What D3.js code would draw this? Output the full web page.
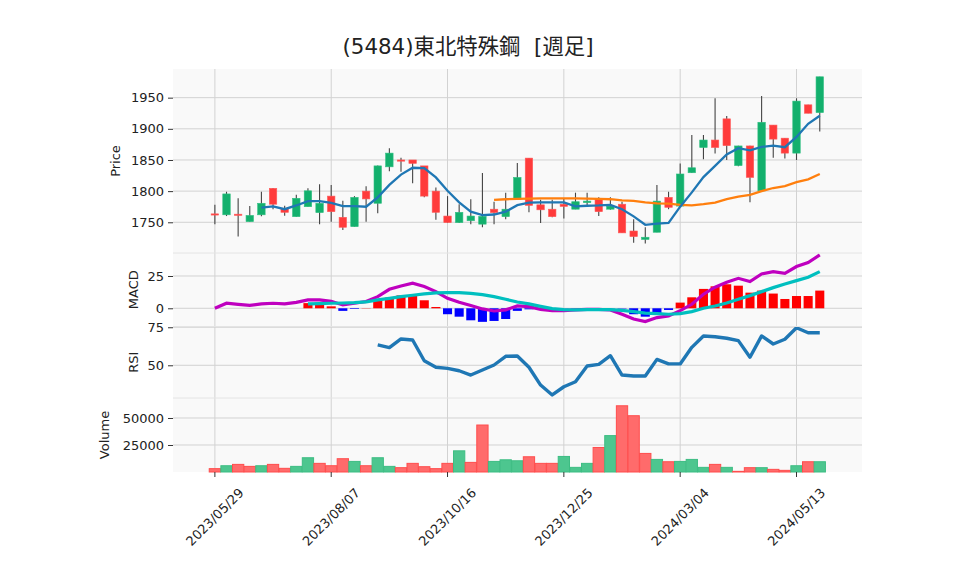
<!DOCTYPE html>
<html><head><meta charset="utf-8">
<script src="https://cdn.jsdelivr.net/npm/d3@7"></script>
<style>
body{margin:0;background:#fff}
text{font-family:"DejaVu Sans","Noto Sans CJK JP",sans-serif;fill:#222}
</style>
</head><body>
<svg id="c" width="958" height="575"></svg>
<script>
// ---------------- DATA ----------------
const title = "(5484)東北特殊鋼  [週足]";
const dates = ["2023/05/29","2023/06/05","2023/06/12","2023/06/19","2023/06/26","2023/07/03","2023/07/10","2023/07/17","2023/07/24","2023/07/31",
"2023/08/07","2023/08/14","2023/08/21","2023/08/28","2023/09/04","2023/09/11","2023/09/18","2023/09/25","2023/10/02","2023/10/09",
"2023/10/16","2023/10/23","2023/10/30","2023/11/06","2023/11/13","2023/11/20","2023/11/27","2023/12/04","2023/12/11","2023/12/18",
"2023/12/25","2024/01/01","2024/01/08","2024/01/15","2024/01/22","2024/01/29","2024/02/05","2024/02/12","2024/02/19","2024/02/26",
"2024/03/04","2024/03/11","2024/03/18","2024/03/25","2024/04/01","2024/04/08","2024/04/15","2024/04/22","2024/04/29","2024/05/06",
"2024/05/13","2024/05/20","2024/05/27"];
const tickLabels = ["2023/05/29","2023/08/07","2023/10/16","2023/12/25","2024/03/04","2024/05/13"];

const opens  = [1763.5,1762,1763,1751,1762,1804.5,1772.5,1759,1775,1765.5,
1792,1758,1743,1800,1780.5,1839,1850,1850,1840.5,1800,
1760,1749.5,1752.5,1747,1771,1759,1787,1853,1778,1771,
1779,1771,1781.5,1788.5,1771,1779,1736,1722.5,1734,1790,
1776,1829.5,1870,1882,1916,1841,1872.5,1800.5,1906,1885,
1861,1938.5,1926];
const highs  = [1778,1799,1788.5,1776,1799,1805,1776.5,1794,1804.5,1811,
1810,1784.5,1792,1808,1841,1869,1853.5,1850,1840.5,1806,
1792,1779,1787,1829,1783,1797.5,1845,1853,1786,1786,
1789,1797.5,1797.5,1790,1790,1783,1755,1742,1810,1799,
1844.5,1890,1890,1949,1920.5,1873,1873,1952.5,1906,1885,
1949,1938.5,1983.5];
const lows   = [1747,1760,1727,1751,1759.5,1771,1760.5,1759,1775,1747,
1751,1737.5,1743,1751,1764.5,1832,1831,1812.5,1790,1754,
1749,1749,1747,1742,1747,1755,1787,1766,1749,1758,
1756,1771,1777.5,1760,1770,1733,1717,1716,1734,1771,
1775,1829,1851,1860.5,1850,1840,1782,1800,1853.5,1852.5,
1850,1925,1895.5];
const closes = [1763,1795.5,1763,1761,1780.5,1779,1766,1788.5,1800.5,1780.5,
1767,1742,1790,1787.5,1840.5,1861,1850,1844.5,1792,1766,
1749.5,1766,1760,1759.5,1765.5,1771,1822,1777,1770,1759,
1775.5,1783,1784,1767,1776,1733,1727,1726,1784,1774,
1827.5,1837.5,1882,1870,1873,1872.5,1822,1910.5,1883.5,1861,
1944.5,1925,1983.5];
const volumes = [3100,5800,7050,5200,5800,7050,3400,5200,13200,8000,
5800,12300,9800,5800,13200,5200,4000,8000,4900,3100,
8000,19600,8900,43500,9800,11300,10400,14100,8000,8000,
14400,4300,8000,22700,33700,61300,52100,17200,11650,9500,
9800,11650,4300,7050,4300,600,4000,4000,2450,1530,
5800,9500,9500];

const ma5 = [null,null,null,null,1773.5,1775.5,1771,1777,1784,1784,
1781,1776,1776,1775,1790,1810,1826.5,1837.5,1837,1822,
1800.5,1782,1767,1761.5,1762.5,1767,1777.5,1781.5,1782,1782,
1782,1775.5,1776.5,1777,1778,1771,1759.5,1746,1748,1749,
1775,1798,1822.5,1840.5,1859,1869,1865.5,1871,1873,1870.5,
1887,1908,1921];
const ma25 = [null,null,null,null,null,null,null,null,null,null,
null,null,null,null,null,null,null,null,null,null,
null,null,null,null,1786,1787,1787.5,1788,1788.5,1788.5,
1788.5,1788.5,1788,1787.5,1787,1785,1784.5,1782,1780.5,1780,
1778,1777,1779,1781.5,1787,1791,1794,1800,1805,1808,
1814.5,1819,1827.5];

const macd = [0,3.9,3.1,2.3,3.4,3.9,3.4,4.6,6.5,6.5,
5.4,2.6,3.9,5.2,9,14.7,17.3,19.4,16.8,12.9,
7.7,4.6,2.1,-0.5,-2.1,-1.2,1.8,1.3,-0.8,-1.8,
-1.8,-1.3,-0.8,-0.9,-1.3,-4.6,-8.3,-10.3,-7.2,-5.9,
-1.8,3.1,10.9,16.3,20.1,23.2,20.7,26.6,28.4,27.1,
32.3,35.4,41.3];
const signal = [null,null,null,null,null,null,null,null,3.4,3.6,
3.9,4.1,4.4,4.9,6.5,7.7,9,10.1,11.1,11.9,
12.1,12.1,11.6,10.6,9,7,4.9,3.4,1.5,-0.3,
-1.0,-1.2,-1.0,-1.0,-1.1,-1.6,-2.6,-3.8,-4.2,-4.6,
-4.1,-2.6,0,1.8,4.1,7,9.8,12.9,16,18.8,
21.4,24,28.4];
const hist = [null,null,null,null,null,null,null,null,4,4.3,
1.5,-2,-0.5,0.2,5.7,8.3,10,10,6.2,1,
-4.6,-6.5,-9.3,-10.5,-9.8,-8.3,-2,-0.8,-0.5,-0.3,
-0.2,-0.2,0.2,0.1,-0.2,-0.3,-4.6,-6.5,-3.9,-1.3,
4.4,8.5,15,17,18.6,17.5,12.1,13.7,11.4,7.2,
9.5,9.5,13.7];
const rsi = [null,null,null,null,null,null,null,null,null,null,
null,null,null,null,63.4,61.6,67.3,66.6,53,48.7,
48,46.4,43.6,46.9,50.2,55.9,56.1,48.7,37,30.5,
35.9,39.2,49.5,50.6,56.3,43.6,43,43,53.9,50.9,
50.9,61.8,69.3,68.8,67.8,66.2,55.3,69.3,64,67.1,
74.7,71.4,71.4];

const priceTicks = [1750,1800,1850,1900,1950];
const macdTicks = [0,25];
const rsiTicks = [50,75];
const volTicks = [25000,50000];

// ---------------- LAYOUT ----------------
const svg = d3.select("#c");
const L = 173, R = 862;
const FONT = '"DejaVu Sans","Noto Sans CJK JP",sans-serif';
const panels = {
  price:{top:69, bot:253, dom:[1700.7,1996], ticks:priceTicks, label:"Price", lx:115},
  macd:{top:253, bot:326.5, dom:[-14.1,42.8], ticks:macdTicks, label:"MACD", lx:133},
  rsi:{top:326.5, bot:398, dom:[28.5,75.5], ticks:rsiTicks, label:"RSI", lx:133},
  vol:{top:398, bot:472, dom:[0,68500], ticks:volTicks, label:"Volume", lx:104}
};
const x = d3.scaleLinear().domain([-3.6, 55.63]).range([L, R]);
const step = x(1)-x(0);
const idx = d3.range(dates.length);
const tickIdx = tickLabels.map(t => dates.indexOf(t));

Object.entries(panels).forEach(([k,p]) => {
  p.y = d3.scaleLinear().domain(p.dom).range([p.bot, p.top]);
  const g = svg.append("g");
  g.append("rect").attr("x",L).attr("y",p.top).attr("width",R-L).attr("height",p.bot-p.top).attr("fill","#f9f9f9");
  g.selectAll(".vg").data(tickIdx).enter().append("line")
    .attr("x1",d=>x(d)).attr("x2",d=>x(d)).attr("y1",p.top).attr("y2",p.bot)
    .attr("stroke","#d2d2d2").attr("stroke-width",1);
  g.selectAll(".hg").data(p.ticks).enter().append("line")
    .attr("x1",L).attr("x2",R).attr("y1",d=>p.y(d)).attr("y2",d=>p.y(d))
    .attr("stroke","#d2d2d2").attr("stroke-width",1);
  const ax = d3.axisLeft(p.y).tickValues(p.ticks).tickSize(5).tickPadding(4).tickFormat(d3.format("d"));
  const a = svg.append("g").attr("transform",`translate(${L},0)`).call(ax);
  a.select(".domain").remove();
  a.selectAll("line").attr("stroke","#333");
  a.selectAll("text").attr("font-size",13).attr("fill","#222").attr("font-family",FONT);
  svg.append("text").attr("transform",`translate(${p.lx},${(p.top+p.bot)/2}) rotate(-90)`)
    .attr("text-anchor","middle").attr("dominant-baseline","central").attr("font-size",13).text(p.label);
  p.g = g;
});
[253,326.5,398].forEach(yv => svg.append("line").attr("x1",L).attr("x2",R).attr("y1",yv).attr("y2",yv).attr("stroke","#e4e4e4"));

// ---------------- PRICE ----------------
const UP = "#13b06d", DN = "#ff3b3b";
const py = panels.price.y;
const pg = panels.price.g;
const bw = step*0.64;
pg.selectAll(".wick").data(idx).enter().append("line")
  .attr("x1",i=>x(i)).attr("x2",i=>x(i)).attr("y1",i=>py(highs[i])).attr("y2",i=>py(lows[i]))
  .attr("stroke","#444").attr("stroke-width",1.1);
pg.selectAll(".body").data(idx).enter().append("rect")
  .attr("x",i=>x(i)-bw/2).attr("width",bw)
  .attr("y",i=>py(Math.max(opens[i],closes[i])))
  .attr("height",i=>Math.max(1.2, Math.abs(py(opens[i])-py(closes[i]))))
  .attr("fill",i=>closes[i]>opens[i]?UP:DN)
  .attr("stroke",i=>closes[i]>opens[i]?"#2fbf80":"#ff5a5a").attr("stroke-width",0.6);
const lineGen = (arr, ys) => d3.line().defined(i=>arr[i]!==null).x(i=>x(i)).y(i=>ys(arr[i]));
pg.append("path").attr("d",lineGen(ma25,py)(idx)).attr("fill","none").attr("stroke","#ff7f0e").attr("stroke-width",2.3);
pg.append("path").attr("d",lineGen(ma5,py)(idx)).attr("fill","none").attr("stroke","#1f77b4").attr("stroke-width",2.3);

// ---------------- MACD ----------------
const my = panels.macd.y, mg = panels.macd.g;
const hw = step*0.78;
mg.selectAll(".h").data(idx.filter(i=>hist[i]!==null)).enter().append("rect")
  .attr("x",i=>x(i)-hw/2).attr("width",hw)
  .attr("y",i=>my(Math.max(0,hist[i]))).attr("height",i=>Math.abs(my(hist[i])-my(0)))
  .attr("fill",i=>hist[i]>=0?"#ff0000":"#0000ff");
mg.append("path").attr("d",lineGen(macd,my)(idx)).attr("fill","none").attr("stroke","#bf00bf").attr("stroke-width",3.2);
mg.append("path").attr("d",lineGen(signal,my)(idx)).attr("fill","none").attr("stroke","#00bfbf").attr("stroke-width",3.2);

// ---------------- RSI ----------------
const ry = panels.rsi.y, rg = panels.rsi.g;
rg.append("path").attr("d",lineGen(rsi,ry)(idx)).attr("fill","none").attr("stroke","#1f77b4").attr("stroke-width",3.4).attr("stroke-linejoin","round");

// ---------------- VOLUME ----------------
const vy = panels.vol.y, vg = panels.vol.g;
const vw = step*0.97;
const vUp = i => i>0 && closes[i] > closes[i-1];
vg.selectAll(".v").data(idx).enter().append("rect")
  .attr("x",i=>x(i)-vw/2).attr("width",vw)
  .attr("y",i=>vy(volumes[i])).attr("height",i=>vy(0)-vy(volumes[i]))
  .attr("fill",i=>vUp(i)?"#4dc68f":"#ff6b6b")
  .attr("stroke",i=>vUp(i)?"#3dbd83":"#ff4d4d").attr("stroke-width",1);

// ---------------- X AXIS ----------------
const xa = svg.append("g");
xa.selectAll("line").data(tickIdx).enter().append("line")
  .attr("x1",i=>x(i)).attr("x2",i=>x(i)).attr("y1",472).attr("y2",477).attr("stroke","#333");
xa.selectAll("text").data(tickIdx).enter().append("text")
  .attr("transform",i=>`translate(${x(i)},517) rotate(-45)`)
  .attr("text-anchor","middle").attr("dominant-baseline","central")
  .attr("font-size",13).text(i=>dates[i]);

// ---------------- TITLE ----------------
svg.append("text").attr("x",468).attr("y",46).attr("text-anchor","middle").attr("dominant-baseline","central")
  .attr("font-size",21.4).style("white-space","pre").text(title);
</script>
</body></html>
